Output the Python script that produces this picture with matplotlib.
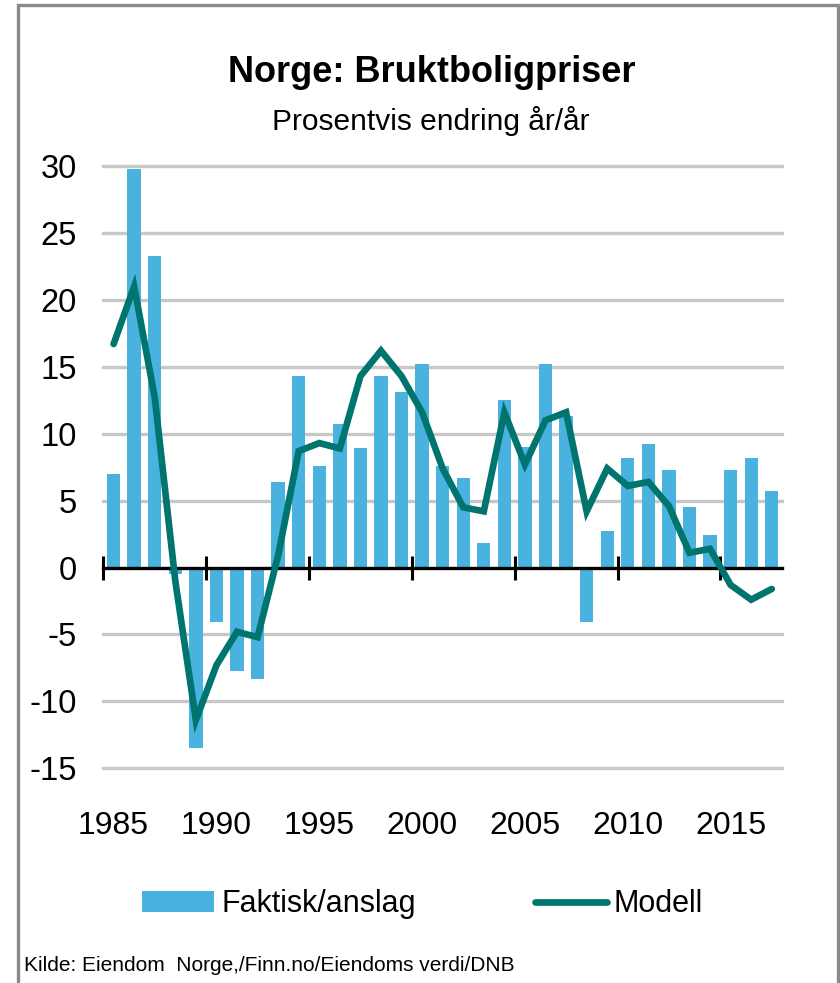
import numpy as np
import matplotlib
matplotlib.use("Agg")
import matplotlib.pyplot as plt
from matplotlib.patches import Rectangle, Patch
from matplotlib.lines import Line2D

# ============================================
# DATA
# ============================================

years = list(range(1985, 2018))

# Faktisk/anslag (bars), % y/y
faktisk = [7.0, 29.8, 23.3, -0.5, -13.5, -4.1, -7.7, -8.3, 6.4, 14.3,
           7.6, 10.7, 8.9, 14.3, 13.1, 15.2, 7.6, 6.7, 1.8, 12.5,
           9.0, 15.2, 11.3, -4.1, 2.7, 8.2, 9.2, 7.3, 4.5, 2.4,
           7.3, 8.2, 5.7]

# Modell (line), % y/y
modell = [16.7, 21.0, 12.7, -1.0, -11.4, -7.3, -4.8, -5.2, 0.9, 8.7,
          9.3, 8.9, 14.3, 16.2, 14.3, 11.6, 7.4, 4.5, 4.2, 11.6,
          7.7, 11.0, 11.6, 4.2, 7.4, 6.1, 6.4, 4.6, 1.1, 1.4,
          -1.3, -2.4, -1.6]

label_years = [1985, 1990, 1995, 2000, 2005, 2010, 2015]
y_ticks = [-15, -10, -5, 0, 5, 10, 15, 20, 25, 30]

title = "Norge: Bruktboligpriser"
subtitle = "Prosentvis endring år/år"
source = "Kilde: Eiendom  Norge,/Finn.no/Eiendoms verdi/DNB"

# ============================================
# STYLE
# ============================================

plt.rcParams['font.family'] = ['Liberation Sans', 'DejaVu Sans']
plt.rcParams['axes.unicode_minus'] = False

bar_color = "#4AB2DF"
line_color = "#00756F"
grid_color = "#C8C8C8"

fig = plt.figure(figsize=(8.4, 9.83), dpi=100)
ax = fig.add_axes([0.123, 0.2184, 0.808, 0.6127])

x = np.arange(len(years))

# gridlines (zero line is the axis itself)
for yv in y_ticks:
    if yv != 0:
        ax.axhline(yv, color=grid_color, lw=2.4, zorder=0, clip_on=False)

ax.bar(x, faktisk, width=0.65, color=bar_color, zorder=2)
ax.plot(x, modell, color=line_color, lw=4.8, zorder=4,
        solid_capstyle='round', solid_joinstyle='miter')

ax.set_xlim(-0.5, len(years) - 0.5)
ax.set_ylim(-15, 30)

for s in ['top', 'right', 'left']:
    ax.spines[s].set_visible(False)
ax.spines['bottom'].set_position(('data', 0))
ax.spines['bottom'].set_linewidth(2.4)
ax.spines['bottom'].set_zorder(3)

# major ticks at category boundaries every 5 years
ax.set_xticks(np.arange(-0.5, len(years) - 1, 5))
ax.set_xticklabels([])
ax.tick_params(axis='x', which='major', direction='inout', length=17,
               width=2.2, color='black')

# year labels as minor ticks at category centres, pushed to the bottom
ax.set_xticks([years.index(yr) for yr in label_years], minor=True)
ax.set_xticklabels([str(yr) for yr in label_years], minor=True)
ax.tick_params(axis='x', which='minor', length=0, pad=175, labelsize=23)

ax.set_yticks(y_ticks)
ax.set_yticklabels([str(v) for v in y_ticks])
ax.tick_params(axis='y', length=0, pad=19, labelsize=23.5)

# ============================================
# TEXT
# ============================================

fig.text(0.514, 0.9166, title, ha='center', va='baseline',
         fontsize=26, fontweight='bold')
fig.text(0.5125, 0.868, subtitle, ha='center', va='baseline', fontsize=21.5)
fig.text(0.029, 0.012, source, ha='left', va='baseline', fontsize=15)

handles = [Patch(facecolor=bar_color, edgecolor='none'),
           Line2D([0], [0], color=line_color, lw=4.8, solid_capstyle='round')]
fig.legend(handles, ["Faktisk/anslag", "Modell"], loc='center',
           bbox_to_anchor=(0.503, 0.080), ncol=2, frameon=False, fontsize=22,
           handlelength=2.35, handleheight=0.7, handletextpad=0.23,
           columnspacing=3.9)

# outer frame
fig.patches.append(Rectangle((18 / 840, -0.05), 820 / 840, 1 - 5 / 983 + 0.05,
                             transform=fig.transFigure, fill=False,
                             edgecolor='#8A8A8A', lw=2.4, zorder=10))

plt.savefig("out.png", dpi=100)
